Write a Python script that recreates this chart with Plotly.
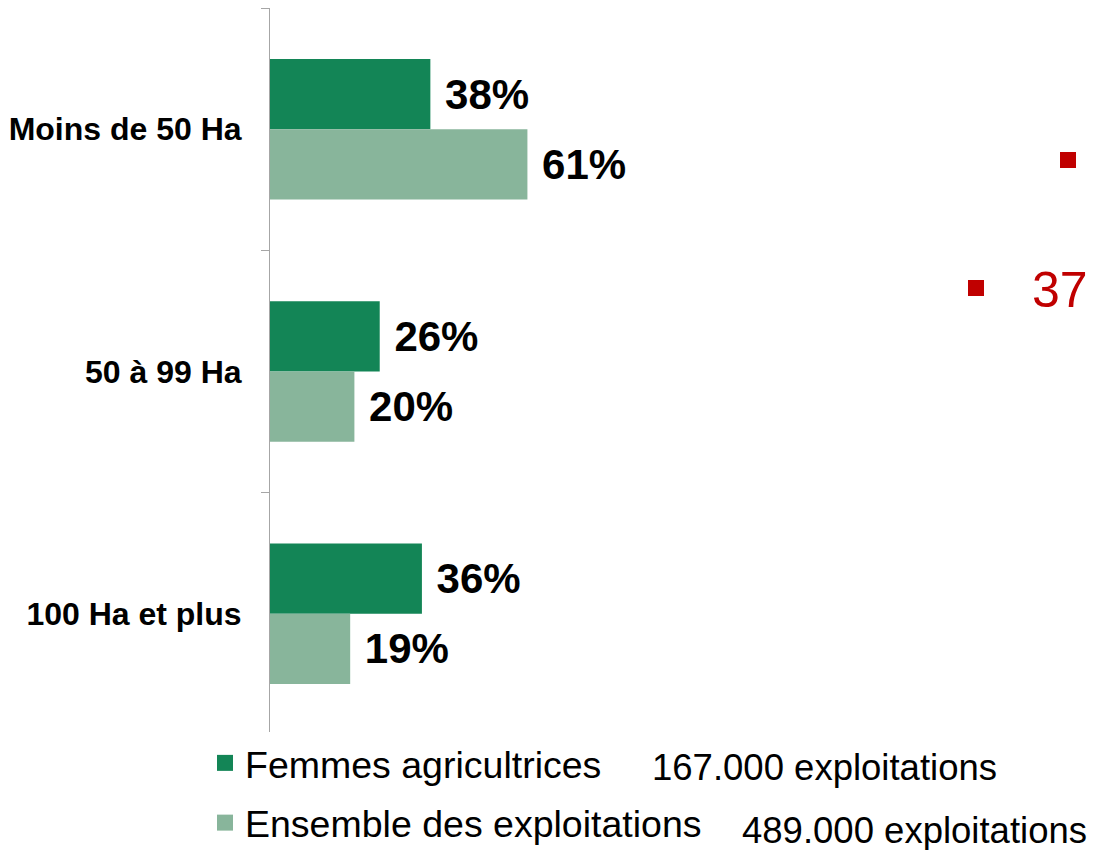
import plotly.graph_objects as go

categories = ["Moins de 50 Ha", "50 à 99 Ha", "100 Ha et plus"]
femmes = [38, 26, 36]
ensemble = [61, 20, 19]
series_names = ["Femmes agricultrices", "Ensemble des exploitations"]
counts = ["167.000 exploitations", "489.000 exploitations"]

DARK = "#138556"
LIGHT = "#88B59B"
RED = "#C00000"
FONT = "Liberation Sans, Arial, sans-serif"

# page body has an 8px margin: work in screen pixels, shift by OFF
OFF = 8
W, H = 1095 - OFF, 850 - OFF
# plot area on screen: x 270..1095, y 8..735
L, T, R, B = 270 - OFF, 8 - OFF, 0, H - (735 - OFF)
PW, PH = W - L - R, H - T - B


def px(x):
    return (x - OFF - L) / PW


def py(y):
    return (H - B - (y - OFF)) / PH


fig = go.Figure()
for name, vals, col in [(series_names[0], femmes, DARK), (series_names[1], ensemble, LIGHT)]:
    fig.add_trace(go.Bar(
        y=categories, x=vals, orientation="h", name=name,
        marker=dict(color=col, line=dict(width=0)),
        texttemplate="\u00a0<b>%{x}%</b>", textposition="outside",
        textfont=dict(family=FONT, size=42, color="black"),
        constraintext="none", cliponaxis=False, showlegend=False,
    ))

# legend entries with bigger square symbols
for i, (name, col) in enumerate([(series_names[0], DARK), (series_names[1], LIGHT)]):
    fig.add_trace(go.Scatter(
        x=[None], y=[None], mode="markers", name=name, legendgroup=f"g{i}",
        marker=dict(symbol="square", size=20, color=col),
    ))

fig.update_layout(
    width=W, height=H,
    margin=dict(l=L, r=R, t=T, b=B, autoexpand=False),
    plot_bgcolor="white", paper_bgcolor="white",
    barmode="group", bargap=0.42, bargroupgap=0,
    xaxis=dict(visible=False, range=[0, PW / 4.22], showgrid=False, zeroline=False),
    yaxis=dict(
        autorange="reversed", showline=True, linecolor="#A6A6A6", linewidth=1,
        ticks="outside", tickson="boundaries", ticklen=8, tickcolor="#A6A6A6",
        showgrid=False, ticklabelstandoff=21, automargin=False,
        tickfont=dict(family=FONT, size=32, color="black", weight="bold"),
    ),
    legend=dict(
        xref="container", yref="container", x=(205 - OFF) / W, y=1 - (732 - OFF) / H,
        xanchor="left", yanchor="top", traceorder="grouped", tracegroupgap=8,
        font=dict(family=FONT, size=37.5, color="black"), itemsizing="trace",
    ),
    showlegend=True,
)

for txt, xx, yy in [(counts[0], 650, 767), (counts[1], 740, 830)]:
    fig.add_annotation(
        text=txt, xref="paper", yref="paper", x=px(xx), y=py(yy),
        xanchor="left", yanchor="middle", showarrow=False,
        font=dict(family=FONT, size=36.5, color="black"),
    )

# stray red marks from the slide
for cx, cy in [(1068, 160), (976, 288)]:
    fig.add_shape(
        type="rect", xref="paper", yref="paper",
        x0=px(cx - 8), x1=px(cx + 8), y0=py(cy + 8), y1=py(cy - 8),
        fillcolor=RED, line=dict(width=0),
    )
fig.add_annotation(
    text="37", xref="paper", yref="paper", x=px(1090), y=py(290),
    xanchor="right", yanchor="middle", showarrow=False,
    font=dict(family=FONT, size=50, color=RED),
)

fig.write_html("out.html")
